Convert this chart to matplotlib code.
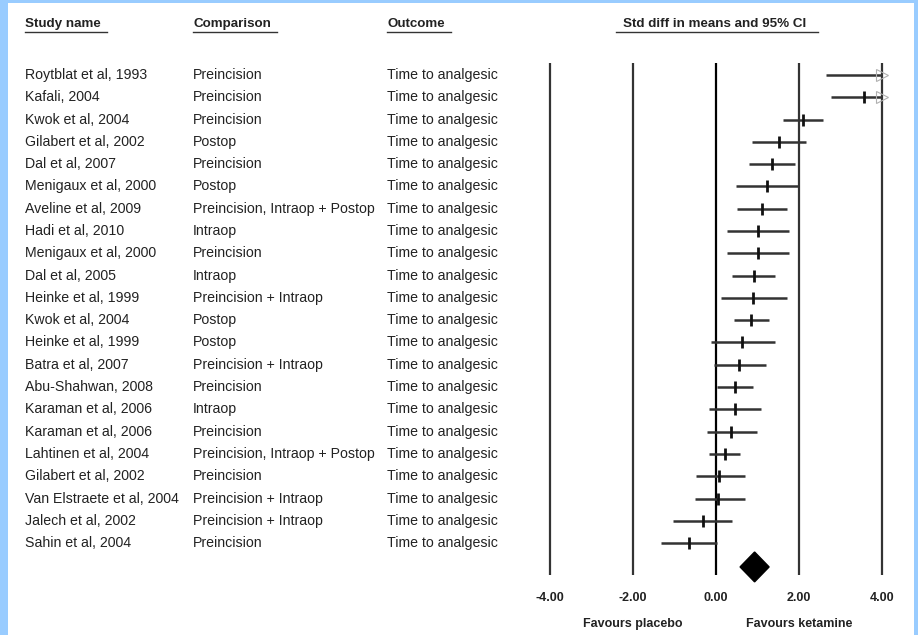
import matplotlib
matplotlib.use("Agg")
import matplotlib.pyplot as plt
import matplotlib.transforms as mtransforms
from matplotlib.patches import Rectangle, Polygon
from matplotlib.lines import Line2D
import numpy as np

plt.rcParams['font.family'] = ['Liberation Sans', 'DejaVu Sans']

studies = ["Roytblat et al, 1993", "Kafali, 2004", "Kwok et al, 2004", "Gilabert et al, 2002",
           "Dal et al, 2007", "Menigaux et al, 2000", "Aveline et al, 2009", "Hadi et al, 2010",
           "Menigaux et al, 2000", "Dal et al, 2005", "Heinke et al, 1999", "Kwok et al, 2004",
           "Heinke et al, 1999", "Batra et al, 2007", "Abu-Shahwan, 2008", "Karaman et al, 2006",
           "Karaman et al, 2006", "Lahtinen et al, 2004", "Gilabert et al, 2002",
           "Van Elstraete et al, 2004", "Jalech et al, 2002", "Sahin et al, 2004"]
comparisons = ["Preincision", "Preincision", "Preincision", "Postop",
               "Preincision", "Postop", "Preincision, Intraop + Postop", "Intraop",
               "Preincision", "Intraop", "Preincision + Intraop", "Postop",
               "Postop", "Preincision + Intraop", "Preincision", "Intraop",
               "Preincision", "Preincision, Intraop + Postop", "Preincision",
               "Preincision + Intraop", "Preincision + Intraop", "Preincision"]
outcome = "Time to analgesic"
est = [4.6, 3.57, 2.09, 1.52, 1.35, 1.23, 1.10, 1.01, 1.01, 0.91, 0.90, 0.84,
       0.63, 0.56, 0.46, 0.46, 0.36, 0.21, 0.08, 0.05, -0.32, -0.65]
lo = [2.65, 2.76, 1.61, 0.86, 0.80, 0.48, 0.50, 0.27, 0.27, 0.39, 0.11, 0.43,
      -0.13, -0.06, 0.03, -0.16, -0.22, -0.18, -0.47, -0.51, -1.03, -1.33]
hi = [6.5, 4.4, 2.59, 2.18, 1.90, 2.01, 1.70, 1.77, 1.75, 1.43, 1.70, 1.27,
      1.43, 1.20, 0.90, 1.08, 0.98, 0.59, 0.71, 0.71, 0.39, 0.02]
summary_est, summary_lo, summary_hi = 0.93, 0.58, 1.28
xticks = [-4, -2, 0, 2, 4]
xticklabels = ["-4.00", "-2.00", "0.00", "2.00", "4.00"]

W, H = 918, 635
fig = plt.figure(figsize=(W / 100, H / 100), dpi=100)
fig.patch.set_facecolor('#99CCFF')
fig.add_artist(Rectangle((8 / W, 0), (914 - 8) / W, (H - 3) / H, transform=fig.transFigure,
                         facecolor='white', edgecolor='none', zorder=-10))

# axes geometry (pixels): x=-4 at 550, 4 at 882 ; rows 0 at y=75, step 22.29
ppu = 41.5
xmin, xmax = -4.5, 4.5
left_px = 716 + xmin * ppu
row_step = 22.29
top_px, bot_px = 63, 575
ax = fig.add_axes([left_px / W, 1 - bot_px / H, (xmax - xmin) * ppu / W, (bot_px - top_px) / H])
ax.set_xlim(xmin, xmax)
ax.set_ylim((bot_px - 75) / row_step, (top_px - 75) / row_step)
ax.patch.set_alpha(0)
for s in ax.spines.values():
    s.set_visible(False)
ax.set_yticks([])
ax.set_xticks(xticks)
ax.set_xticklabels(xticklabels, fontsize=9, fontweight='bold', color='#222222')
ax.tick_params(axis='x', length=0, pad=12)

for xv in xticks:
    ax.axvline(xv, color='black' if xv == 0 else '#333333', lw=1.6, zorder=1)

n = len(studies)
rows = np.arange(n)
lo_a = np.array(lo)
hi_a = np.array(hi)
est_a = np.array(est)
lo_c = np.clip(lo_a, -4, 4)
hi_c = np.clip(hi_a, -4, 4)
ax.hlines(rows, lo_c, hi_c, color='#333333', lw=1.8, zorder=2)
vis = (est_a >= -4) & (est_a <= 4)
ax.plot(est_a[vis], rows[vis], linestyle='none', marker='|', markersize=9,
        markeredgewidth=2, color='#111111', zorder=3)
clipped = hi_a > 4
ax.plot(np.full(clipped.sum(), 4.0), rows[clipped], linestyle='none', marker='>',
        markersize=9, markerfacecolor='none', markeredgecolor='#b0b0b0', markeredgewidth=0.8,
        zorder=3, clip_on=False)

# summary diamond
yd = n + 0.07
hh = 0.67
ax.add_patch(Polygon([[summary_lo, yd], [summary_est, yd - hh], [summary_hi, yd], [summary_est, yd + hh]],
                     closed=True, facecolor='black', edgecolor='black', clip_on=False, zorder=4))

# text columns
tr = mtransforms.blended_transform_factory(fig.transFigure, ax.transData)
fs = 10.2
for i in range(n):
    ax.text(25 / W, i, studies[i], transform=tr, fontsize=fs, va='center', ha='left',
            color='#222222', clip_on=False)
    ax.text(193 / W, i, comparisons[i], transform=tr, fontsize=fs, va='center', ha='left',
            color='#222222', clip_on=False)
    ax.text(387 / W, i, outcome, transform=tr, fontsize=fs, va='center', ha='left',
            color='#222222', clip_on=False)

# headers
hdr_y = 1 - 24 / H
headers = [("Study name", 25 / W, 'left'), ("Comparison", 193 / W, 'left'),
           ("Outcome", 387 / W, 'left'), ("Std diff in means and 95% CI", 715 / W, 'center')]
hdr_texts = []
for txt, xx, ha in headers:
    t = fig.text(xx, hdr_y, txt, fontsize=9.6, fontweight='bold', ha=ha, va='center', color='#222222')
    hdr_texts.append((t, ha))
fig.canvas.draw()
r = fig.canvas.get_renderer()
for t, ha in hdr_texts:
    bb = t.get_window_extent(r)
    yline = 1 - 32 / H
    x0 = bb.x0 - (7 if ha == 'center' else 0)
    x1 = bb.x1 + (11 if ha == 'center' else 6)
    fig.add_artist(Line2D([x0 / W, x1 / W], [yline, yline], transform=fig.transFigure,
                          color='#333333', lw=1.0))

yfav = (624 - 75) / row_step
ax.text(-2, yfav, "Favours placebo", fontsize=9, fontweight='bold', ha='center', va='center',
        color='#222222', clip_on=False)
ax.text(2, yfav, "Favours ketamine", fontsize=9, fontweight='bold', ha='center', va='center',
        color='#222222', clip_on=False)

fig.savefig("out.png", dpi=100, facecolor=fig.get_facecolor())
